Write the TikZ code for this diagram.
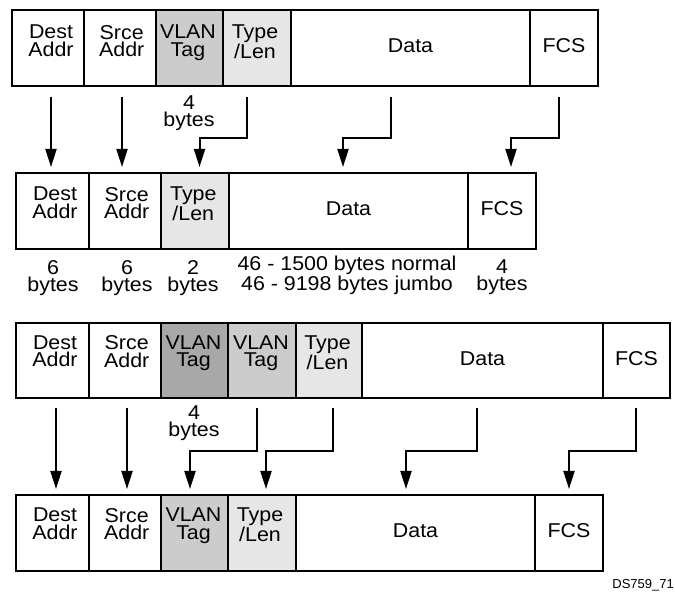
\documentclass[tikz,border=0pt]{standalone}
\usepackage{fontspec}
\setmainfont{Liberation Sans}[FakeStretch=1.07]
\newfontfamily\idfont{Liberation Sans}
\usetikzlibrary{arrows.meta,calc}
\definecolor{vlanA}{HTML}{A8A8A8}
\definecolor{vlanB}{HTML}{CCCCCC}
\definecolor{typeC}{HTML}{E6E6E6}
\begin{document}
\begin{tikzpicture}[x=1pt,y=-1pt,
  cell/.style={draw, line width=2pt, inner sep=0pt, outer sep=0pt, anchor=north west, fill=white, minimum height=76},
  lbl/.style={inner sep=0pt, align=center, font=\fontsize{20}{17.5}\selectfont},
  sizelbl/.style={inner sep=0pt, align=center, anchor=north, font=\fontsize{20}{17}\selectfont},
  arr/.style={line width=2pt, -{Triangle[length=18pt,width=11pt]}, shorten >=6pt}]
\useasboundingbox (0,0) rectangle (675,593);
\fill[white] (0,0) rectangle (675,593);

% ---------- Row 1 ----------
\node[cell, minimum width=72] (a1) at (12,10) {};
\node[cell, minimum width=72] (a2) at (84,10) {};
\node[cell, minimum width=67, fill=vlanB] (a3) at (156,10) {};
\node[cell, minimum width=68, fill=typeC] (a4) at (223,10) {};
\node[cell, minimum width=239] (a5) at (291,10) {};
\node[cell, minimum width=68] (a6) at (530,10) {};
\node[lbl, anchor=north] (a1t) at ($(a1.north)+(3,15)$) {Dest\\Addr};
\node[lbl, anchor=north] (a2t) at ($(a2.north)+(1.7,15)$) {Srce\\Addr};
\node[lbl, anchor=north] (a3t) at ($(a3.north)+(-1.5,15)$) {VLAN\\Tag};
\node[lbl, anchor=north] (a4t) at ($(a4.north)+(-2,15)$) {Type\\/Len};
\node[lbl] (a5t) at ($(a5.center)+(0,-2)$) {Data};
\node[lbl] (a6t) at ($(a6.center)+(0,-2)$) {FCS};
\node[sizelbl] (a3s) at (189,96) {4\\bytes};

% ---------- Row 2 ----------
\node[cell, minimum width=73] (b1) at (16,173) {};
\node[cell, minimum width=72] (b2) at (89,173) {};
\node[cell, minimum width=68, fill=typeC] (b3) at (161,173) {};
\node[cell, minimum width=239] (b4) at (229,173) {};
\node[cell, minimum width=68] (b5) at (468,173) {};
\node[lbl, anchor=north] (b1t) at ($(b1.north)+(2.5,14)$) {Dest\\Addr};
\node[lbl, anchor=north] (b2t) at ($(b2.north)+(1.7,14)$) {Srce\\Addr};
\node[lbl, anchor=north] (b3t) at ($(b3.north)+(-1.7,14)$) {Type\\/Len};
\node[lbl] (b4t) at ($(b4.center)+(0,-2)$) {Data};
\node[lbl] (b5t) at ($(b5.center)+(0,-2)$) {FCS};
\node[sizelbl] (b1s) at (53,260) {6\\bytes};
\node[sizelbl] (b2s) at (127,260) {6\\bytes};
\node[sizelbl] (b3s) at (193,260) {2\\bytes};
\node[sizelbl] (b4s) at (347,256) {46 - 1500 bytes normal\\46 - 9198 bytes jumbo};
\node[sizelbl] (b5s) at (502,260) {4\\bytes};

% ---------- Row 3 ----------
\node[cell, minimum width=73, minimum height=75] (c1) at (16,323) {};
\node[cell, minimum width=72, minimum height=75] (c2) at (89,323) {};
\node[cell, minimum width=67, minimum height=75, fill=vlanA] (c3) at (161,323) {};
\node[cell, minimum width=68, minimum height=75, fill=vlanB] (c4) at (228,323) {};
\node[cell, minimum width=66, minimum height=75, fill=typeC] (c5) at (296,323) {};
\node[cell, minimum width=241, minimum height=75] (c6) at (362,323) {};
\node[cell, minimum width=67, minimum height=75] (c7) at (603,323) {};
\node[lbl, anchor=north] (c1t) at ($(c1.north)+(2.5,12.5)$) {Dest\\Addr};
\node[lbl, anchor=north] (c2t) at ($(c2.north)+(1.7,12.5)$) {Srce\\Addr};
\node[lbl, anchor=north] (c3t) at ($(c3.north)+(-1,12.5)$) {VLAN\\Tag};
\node[lbl, anchor=north] (c4t) at ($(c4.north)+(-1,12.5)$) {VLAN\\Tag};
\node[lbl, anchor=north] (c5t) at ($(c5.north)+(-1.5,12.5)$) {Type\\/Len};
\node[lbl] (c6t) at ($(c6.center)+(0,-2)$) {Data};
\node[lbl] (c7t) at ($(c7.center)+(0,-2)$) {FCS};
\node[sizelbl] (c3s) at (194,406) {4\\bytes};

% ---------- Row 4 ----------
\node[cell, minimum width=73] (d1) at (16,495) {};
\node[cell, minimum width=72] (d2) at (89,495) {};
\node[cell, minimum width=67, fill=vlanB] (d3) at (161,495) {};
\node[cell, minimum width=68, fill=typeC] (d4) at (228,495) {};
\node[cell, minimum width=239] (d5) at (296,495) {};
\node[cell, minimum width=68] (d6) at (535,495) {};
\node[lbl, anchor=north] (d1t) at ($(d1.north)+(2.5,13)$) {Dest\\Addr};
\node[lbl, anchor=north] (d2t) at ($(d2.north)+(1.7,13)$) {Srce\\Addr};
\node[lbl, anchor=north] (d3t) at ($(d3.north)+(-1,13)$) {VLAN\\Tag};
\node[lbl, anchor=north] (d4t) at ($(d4.north)+(-2,13)$) {Type\\/Len};
\node[lbl] (d5t) at ($(d5.center)+(0,-2)$) {Data};
\node[lbl] (d6t) at ($(d6.center)+(0,-2)$) {FCS};

\node[inner sep=0pt, anchor=east, font=\idfont\fontsize{13}{13}\selectfont] (dsid) at (674,585) {DS759\_71};

% ---------- Arrows row 1 -> row 2 ----------
\coordinate (sa1) at (51,97);
\coordinate (sa2) at (122,97);
\coordinate (sa4) at (247,97);
\coordinate (sa5) at (391,97);
\coordinate (sa6) at (559,97);
\coordinate (bendA) at (0,138);
\draw[arr] (sa1) -- (sa1 |- b1.north);
\draw[arr] (sa2) -- (sa2 |- b2.north);
\draw[arr] (sa4) -- (sa4 |- bendA) -| ([xshift=4.5pt]b3.north);
\draw[arr] (sa5) -- (sa5 |- bendA) -| ([xshift=-5.5pt]b4.north);
\draw[arr] (sa6) -- (sa6 |- bendA) -| ([xshift=9pt]b5.north);

% ---------- Arrows row 3 -> row 4 ----------
\coordinate (sc1) at (56,408);
\coordinate (sc2) at (127,408);
\coordinate (sc4) at (257,408);
\coordinate (sc5) at (333,408);
\coordinate (sc6) at (477,408);
\coordinate (sc7) at (636,408);
\coordinate (bendC) at (0,451);
\draw[arr] (sc1) -- (sc1 |- d1.north);
\draw[arr] (sc2) -- (sc2 |- d2.north);
\draw[arr] (sc4) -- (sc4 |- bendC) -| ([xshift=-4.5pt]d3.north);
\draw[arr] (sc5) -- (sc5 |- bendC) -| ([xshift=4pt]d4.north);
\draw[arr] (sc6) -- (sc6 |- bendC) -| ([xshift=-9.5pt]d5.north);
\draw[arr] (sc7) -- (sc7 |- bendC) -| (d6.north);
\end{tikzpicture}
\end{document}
